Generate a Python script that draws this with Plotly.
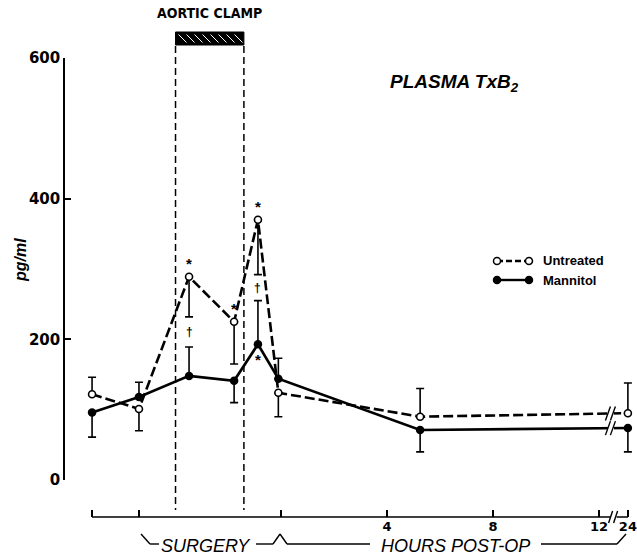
import plotly.graph_objects as go

# ---------------- data ----------------
sample_labels = ["Baseline", "Incision", "Clamp 1", "Clamp 2", "Unclamp", "0 h", "5 h", "24 h"]
# position of each sample on the (hours, with surgery before 0 and a break before 24) axis
sample_axis_pos = [-7.13, -5.36, -3.47, -1.77, -0.87, -0.1, 5.25, 13.09]

untreated_mean = [122, 101, 289, 225, 370, 124, 90, 95]
untreated_err_up = [24, 0, 0, 0, 0, 0, 40, 43]
untreated_err_down = [0, 31, 57, 60, 78, 34, 0, 0]

mannitol_mean = [96, 118, 148, 141, 193, 144, 71, 74]
mannitol_err_up = [0, 21, 41, 0, 62, 29, 0, 0]
mannitol_err_down = [35, 0, 0, 31, 0, 0, 31, 34]

x_tick_pos = [-7.13, -5.36, 0, 4, 8, 12, 13.09]
x_tick_text = ["", "", "", "4", "8", "12", "24"]
y_tick_vals = [0, 200, 400, 600]

clamp_start, clamp_end = -3.98, -1.40
axis_break_pos = 12.55
line_break_pos = 12.45

star_over_untreated = [2, 3, 4]
star_under_mannitol = [4]
dagger_idx = [2, 4]

# ---------------- layout helpers ----------------
W, H = 637, 557
FONT = "Liberation Sans, Arial, sans-serif"
NARROW = "Liberation Sans Narrow, DejaVu Sans Condensed, Liberation Sans, sans-serif"
WIDE = "DejaVu Sans, Verdana, sans-serif"
PX_PER_H = 26.5
X0_PX = 281  # pixel of hour 0


def px(x):
    return x / W


def py(y):
    return 1 - y / H


x_range = [(64 - X0_PX) / PX_PER_H, (632 - X0_PX) / PX_PER_H]

fig = go.Figure()

fig.add_trace(go.Scatter(
    x=sample_axis_pos, y=mannitol_mean, name="Mannitol", mode="lines+markers",
    line=dict(color="black", width=2.6),
    marker=dict(symbol="circle", size=8.5, color="black", line=dict(color="black", width=0)),
    error_y=dict(type="data", symmetric=False, array=mannitol_err_up, arrayminus=mannitol_err_down,
                 color="black", thickness=1.6, width=4),
    cliponaxis=False, showlegend=False))

fig.add_trace(go.Scatter(
    x=sample_axis_pos, y=untreated_mean, name="Untreated", mode="lines+markers",
    line=dict(color="black", width=2.6, dash="10px,4px"),
    marker=dict(symbol="circle", size=7, color="white", line=dict(color="black", width=1.6)),
    error_y=dict(type="data", symmetric=False, array=untreated_err_up, arrayminus=untreated_err_down,
                 color="black", thickness=1.6, width=4),
    cliponaxis=False, showlegend=False))

shapes = []
annotations = []


def text(x, y, s, size, family=FONT, xref="paper", yref="paper", xanchor="center", **kw):
    annotations.append(dict(x=x, y=y, xref=xref, yref=yref, text=s, showarrow=False,
                            xanchor=xanchor, yanchor="middle",
                            font=dict(family=family, size=size, color="black"), **kw))


# x-axis line (from first sample to 24 h)
shapes.append(dict(type="line", xref="x", yref="paper", x0=x_tick_pos[0], x1=x_tick_pos[-1],
                   y0=py(517), y1=py(517), line=dict(color="black", width=1.6)))
# axis break
shapes.append(dict(type="rect", xref="x", yref="paper", xsizemode="pixel", ysizemode="pixel",
                   xanchor=axis_break_pos, yanchor=py(517),
                   x0=-3, x1=3, y0=-3, y1=3, fillcolor="white", line=dict(width=0)))
for dx in (-3, 2):
    shapes.append(dict(type="line", xref="x", yref="paper", xsizemode="pixel", ysizemode="pixel",
                       xanchor=axis_break_pos, yanchor=py(517), x0=dx - 2, x1=dx + 2, y0=-6, y1=6,
                       line=dict(color="black", width=1.4)))

# line breaks on the series between 5 h and 24 h
for mean in (untreated_mean, mannitol_mean):
    xa, xb = sample_axis_pos[-2], sample_axis_pos[-1]
    ya, yb = mean[-2], mean[-1]
    yv = ya + (yb - ya) * (line_break_pos - xa) / (xb - xa)
    shapes.append(dict(type="rect", xref="x", yref="y", xsizemode="pixel", ysizemode="pixel",
                       xanchor=line_break_pos, yanchor=yv, x0=-3, x1=3, y0=-3, y1=3,
                       fillcolor="white", line=dict(width=0)))
    for dx in (-3, 2):
        shapes.append(dict(type="line", xref="x", yref="y", xsizemode="pixel", ysizemode="pixel",
                           xanchor=line_break_pos, yanchor=yv, x0=dx - 2.5, x1=dx + 2.5, y0=-7, y1=7,
                           line=dict(color="black", width=1.4)))

# aortic clamp dashed lines and hatched bar
for xc in (clamp_start, clamp_end):
    shapes.append(dict(type="line", xref="x", yref="paper", x0=xc, x1=xc, y0=py(46), y1=py(510),
                       line=dict(color="black", width=1.5, dash="7px,4px")))
shapes.append(dict(type="rect", xref="x", yref="paper", x0=clamp_start, x1=clamp_end,
                   y0=py(45), y1=py(32), fillcolor="black", line=dict(color="black", width=1)))
xs0 = X0_PX + clamp_start * PX_PER_H
xs1 = X0_PX + clamp_end * PX_PER_H
xx = xs0 + 3
while xx + 8 < xs1:
    shapes.append(dict(type="line", xref="paper", yref="paper", x0=px(xx), x1=px(xx + 8),
                       y0=py(34.5), y1=py(42.5), line=dict(color="white", width=1)))
    xx += 8
text((clamp_start + clamp_end) / 2, py(13), "<b>AORTIC CLAMP</b>", 14, family=NARROW, xref="x")

# stars and daggers
for i in star_over_untreated:
    text(sample_axis_pos[i], untreated_mean[i], "<b>*</b>", 15, xref="x", yref="y", yshift=13)
for i in star_under_mannitol:
    text(sample_axis_pos[i], mannitol_mean[i], "<b>*</b>", 15, xref="x", yref="y", yshift=-15)
for i in dagger_idx:
    y_mid = ((untreated_mean[i] - untreated_err_down[i]) + (mannitol_mean[i] + mannitol_err_up[i])) / 2
    text(sample_axis_pos[i], y_mid, "<b>†</b>", 12, xref="x", yref="y")

# title and axis title
text(px(454), py(83), "<b><i>PLASMA TxB<sub>2</sub></i></b>", 19)
text(px(20), py(260), "<b><i>pg/ml</i></b>", 16, textangle=-90)

# legend (drawn)
leg = [("Untreated", 261, "white", "dash"), ("Mannitol", 280, "black", "solid")]
for name, yy, fill, dash in leg:
    shapes.append(dict(type="line", xref="paper", yref="paper", x0=px(497), x1=px(529),
                       y0=py(yy), y1=py(yy),
                       line=dict(color="black", width=2.4, dash="6px,3px" if dash == "dash" else "solid")))
    for xc in (497, 529):
        shapes.append(dict(type="circle", xref="paper", yref="paper", xsizemode="pixel", ysizemode="pixel",
                           xanchor=px(xc), yanchor=py(yy), x0=-3.5, x1=3.5, y0=-3.5, y1=3.5,
                           fillcolor=fill, line=dict(color="black", width=1.5)))
    text(px(541), py(yy), "<b>" + name + "</b>", 13, xanchor="left")

# bracket below x axis: SURGERY / HOURS POST-OP
br = [(141, 534), (150, 544), (159, 544)]
br2 = [(256, 544), (273, 544), (280, 534), (287, 544), (370, 544)]
br3 = [(541, 544), (617, 544), (626, 534)]
for seg in (br, br2, br3):
    for (xa, ya), (xb, yb) in zip(seg[:-1], seg[1:]):
        shapes.append(dict(type="line", xref="paper", yref="paper", x0=px(xa), x1=px(xb),
                           y0=py(ya), y1=py(yb), line=dict(color="black", width=1.4)))
text(px(206), py(546), "<i>SURGERY</i>", 18)
text(px(455), py(546), "<i>HOURS POST-OP</i>", 18)

fig.update_layout(
    width=W, height=H, margin=dict(l=0, r=0, t=0, b=0, autoexpand=False),
    paper_bgcolor="white", plot_bgcolor="white",
    showlegend=False,
    xaxis=dict(domain=[px(64), px(632)], range=x_range, anchor="free", position=py(517),
               automargin=False,
               showline=False, showgrid=False, zeroline=False,
               ticks="inside", ticklen=7, tickwidth=1.6, tickcolor="black",
               tickmode="array", tickvals=x_tick_pos, ticktext=x_tick_text,
               tickfont=dict(family=WIDE, size=13, color="black", weight="bold")),
    yaxis=dict(domain=[py(480), py(58)], range=[0, 600], anchor="free", position=px(64),
               automargin=False,
               showline=True, linecolor="black", linewidth=1.6, showgrid=False, zeroline=False,
               ticks="inside", ticklen=6, tickwidth=1.6, tickcolor="black",
               tickmode="array", tickvals=y_tick_vals,
               tickfont=dict(family=WIDE, size=15, color="black", weight="bold")),
    shapes=shapes, annotations=annotations,
)

# the default page body has an 8px margin; remove it so the figure fills the window
fig.write_html("out.html", config={"displayModeBar": False},
               post_script="document.body.style.margin='0px';")
